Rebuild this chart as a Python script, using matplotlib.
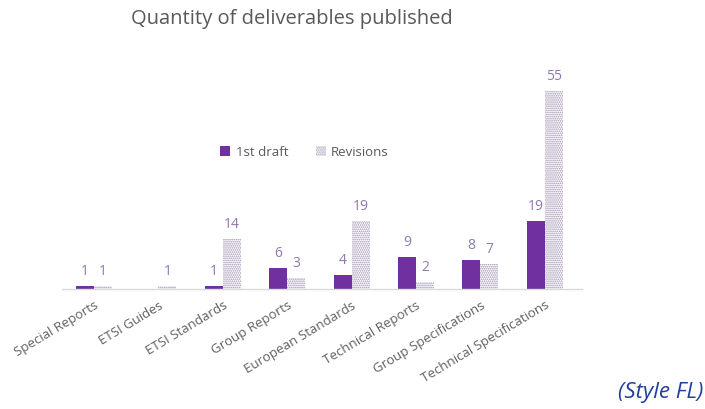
import matplotlib
matplotlib.use("Agg")
import matplotlib.pyplot as plt
import numpy as np
from matplotlib.patches import Patch

categories = ["Special Reports", "ETSI Guides", "ETSI Standards", "Group Reports",
              "European Standards", "Technical Reports", "Group Specifications",
              "Technical Specifications"]
first_draft = [1, 0, 1, 6, 4, 9, 8, 19]
revisions = [1, 1, 14, 3, 19, 2, 7, 55]

plt.rcParams['font.family'] = ['Open Sans', 'DejaVu Sans']
plt.rcParams['hatch.linewidth'] = 0.8

purple = '#7030A0'
hatch_col = '#9c8eb0'
label_col = '#9079ad'

fig = plt.figure(figsize=(7.05, 4.09), dpi=100)
ax = fig.add_axes([0.0877, 0.293, 0.738, 0.528])

x = np.arange(len(categories))
w = 0.28
b1 = ax.bar(x - w/2, first_draft, w, color=purple, linewidth=0)
b2 = ax.bar(x + w/2, revisions, w, facecolor='white', edgecolor=hatch_col,
            hatch='........', linewidth=0)

for xi, v in zip(x - w/2, first_draft):
    if v > 0:
        ax.annotate(str(v), (xi, v), xytext=(0, 5), textcoords='offset points',
                    ha='center', va='bottom', color=label_col, fontsize=10)
for xi, v in zip(x + w/2, revisions):
    if v > 0:
        ax.annotate(str(v), (xi, v), xytext=(0, 5), textcoords='offset points',
                    ha='center', va='bottom', color=label_col, fontsize=10)

ax.set_xlim(-0.5, len(categories) - 0.42)
ax.set_ylim(0, 60)
ax.set_yticks([])
ax.set_xticks(x)
ax.set_xticklabels(categories, rotation=31, ha='right', rotation_mode='anchor',
                   fontsize=9.5, color='#606060')
ax.tick_params(axis='x', length=0, pad=7)
for s in ['top', 'right', 'left']:
    ax.spines[s].set_visible(False)
ax.spines['bottom'].set_color('#d9d9d9')
ax.spines['bottom'].set_linewidth(1)

handles = [Patch(facecolor=purple, linewidth=0),
           Patch(facecolor='white', edgecolor=hatch_col, hatch='........', linewidth=0)]
fig.legend(handles, ['1st draft', 'Revisions'], loc='center',
           bbox_to_anchor=(0.432, 0.628), ncol=2, frameon=False, fontsize=9.5,
           labelcolor='#595959', handlelength=0.75, handleheight=0.75,
           columnspacing=2.1, handletextpad=0.4)

fig.text(0.414, 0.953, 'Quantity of deliverables published', ha='center', va='center',
         fontsize=14.5, color='#595959')
fig.text(0.998, 0.04, '(Style FL)', ha='right', va='center', fontsize=16,
         style='italic', color='#1f3fa0')

fig.savefig('out.png', dpi=100)
